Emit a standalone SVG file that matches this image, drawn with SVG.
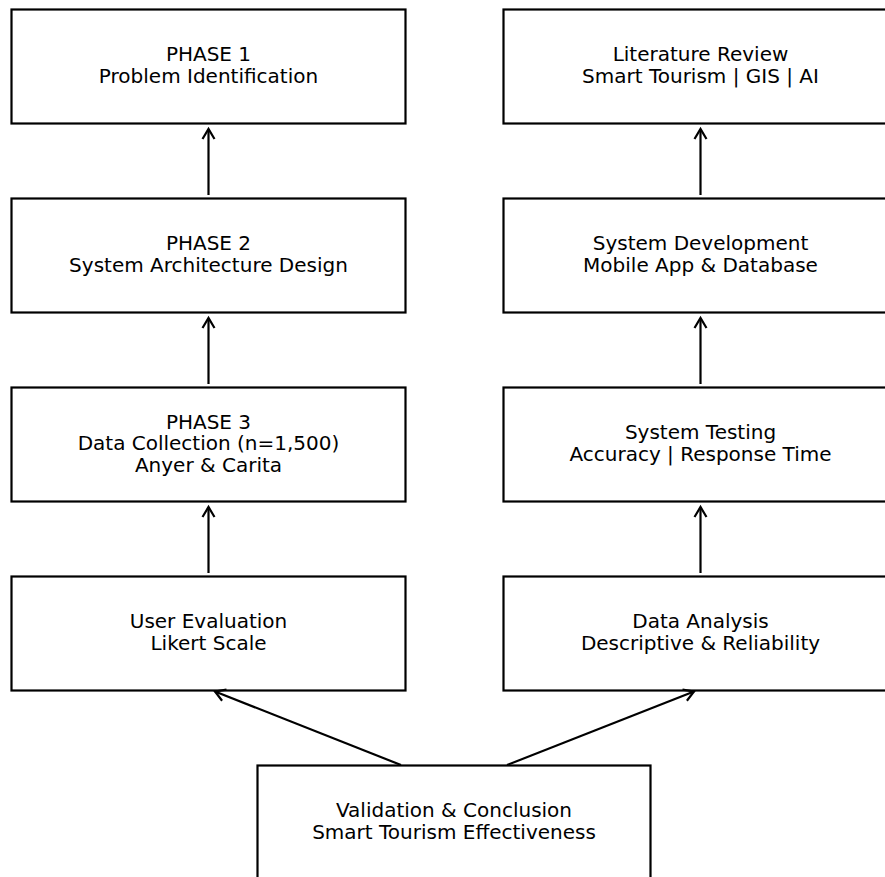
<svg xmlns="http://www.w3.org/2000/svg" width="885" height="877" viewBox="0 0 885 877">
  <style>
    .box { fill: #ffffff; stroke: #000000; stroke-width: 2.2; }
    .lbl { font-family: "DejaVu Sans", "Liberation Sans", sans-serif; font-size: 20px; fill: #000000; text-anchor: middle; }
    .edge { fill: none; stroke: #000000; stroke-width: 2.2; }
  </style>
  <defs>
    <marker id="head" markerUnits="userSpaceOnUse" markerWidth="16" markerHeight="16" viewBox="-12 -8 14 16" refX="0" refY="0" orient="auto">
      <path d="M -10 -6 L 0 0 L -10 6" fill="none" stroke="#000000" stroke-width="2.2" stroke-linejoin="miter"/>
    </marker>
  </defs>
  <rect width="885" height="877" fill="#ffffff"/>

  <!-- left column -->
  <g id="phase1">
    <rect class="box" x="11.5" y="9.5" width="394" height="114"/>
    <text class="lbl" x="208.5" y="61">PHASE 1</text>
    <text class="lbl" x="208.5" y="82.5">Problem Identification</text>
  </g>
  <g id="phase2">
    <rect class="box" x="11.5" y="198.5" width="394" height="114"/>
    <text class="lbl" x="208.5" y="250">PHASE 2</text>
    <text class="lbl" x="208.5" y="271.5">System Architecture Design</text>
  </g>
  <g id="phase3">
    <rect class="box" x="11.5" y="387.5" width="394" height="114"/>
    <text class="lbl" x="208.5" y="428.5">PHASE 3</text>
    <text class="lbl" x="208.5" y="450">Data Collection (n=1,500)</text>
    <text class="lbl" x="208.5" y="471.5">Anyer &amp; Carita</text>
  </g>
  <g id="user-evaluation">
    <rect class="box" x="11.5" y="576.5" width="394" height="114"/>
    <text class="lbl" x="208.5" y="628">User Evaluation</text>
    <text class="lbl" x="208.5" y="649.5">Likert Scale</text>
  </g>

  <!-- right column -->
  <g id="literature-review">
    <rect class="box" x="503.5" y="9.5" width="394" height="114"/>
    <text class="lbl" x="700.5" y="61">Literature Review</text>
    <text class="lbl" x="700.5" y="82.5">Smart Tourism | GIS | AI</text>
  </g>
  <g id="system-development">
    <rect class="box" x="503.5" y="198.5" width="394" height="114"/>
    <text class="lbl" x="700.5" y="250">System Development</text>
    <text class="lbl" x="700.5" y="271.5">Mobile App &amp; Database</text>
  </g>
  <g id="system-testing">
    <rect class="box" x="503.5" y="387.5" width="394" height="114"/>
    <text class="lbl" x="700.5" y="439">System Testing</text>
    <text class="lbl" x="700.5" y="460.5">Accuracy | Response Time</text>
  </g>
  <g id="data-analysis">
    <rect class="box" x="503.5" y="576.5" width="394" height="114"/>
    <text class="lbl" x="700.5" y="628">Data Analysis</text>
    <text class="lbl" x="700.5" y="649.5">Descriptive &amp; Reliability</text>
  </g>

  <!-- bottom -->
  <g id="validation">
    <rect class="box" x="257.5" y="765.5" width="393" height="114"/>
    <text class="lbl" x="454" y="817">Validation &amp; Conclusion</text>
    <text class="lbl" x="454" y="838.5">Smart Tourism Effectiveness</text>
  </g>

  <!-- connectors -->
  <g id="connectors">
    <line class="edge" x1="208.5" y1="195" x2="208.5" y2="129" marker-end="url(#head)"/>
    <line class="edge" x1="208.5" y1="384" x2="208.5" y2="318" marker-end="url(#head)"/>
    <line class="edge" x1="208.5" y1="573" x2="208.5" y2="507" marker-end="url(#head)"/>
    <line class="edge" x1="700.5" y1="195" x2="700.5" y2="129" marker-end="url(#head)"/>
    <line class="edge" x1="700.5" y1="384" x2="700.5" y2="318" marker-end="url(#head)"/>
    <line class="edge" x1="700.5" y1="573" x2="700.5" y2="507" marker-end="url(#head)"/>
    <line class="edge" x1="401" y1="765" x2="215" y2="691.5" marker-end="url(#head)"/>
    <line class="edge" x1="507" y1="765" x2="694" y2="691.5" marker-end="url(#head)"/>
  </g>
</svg>
